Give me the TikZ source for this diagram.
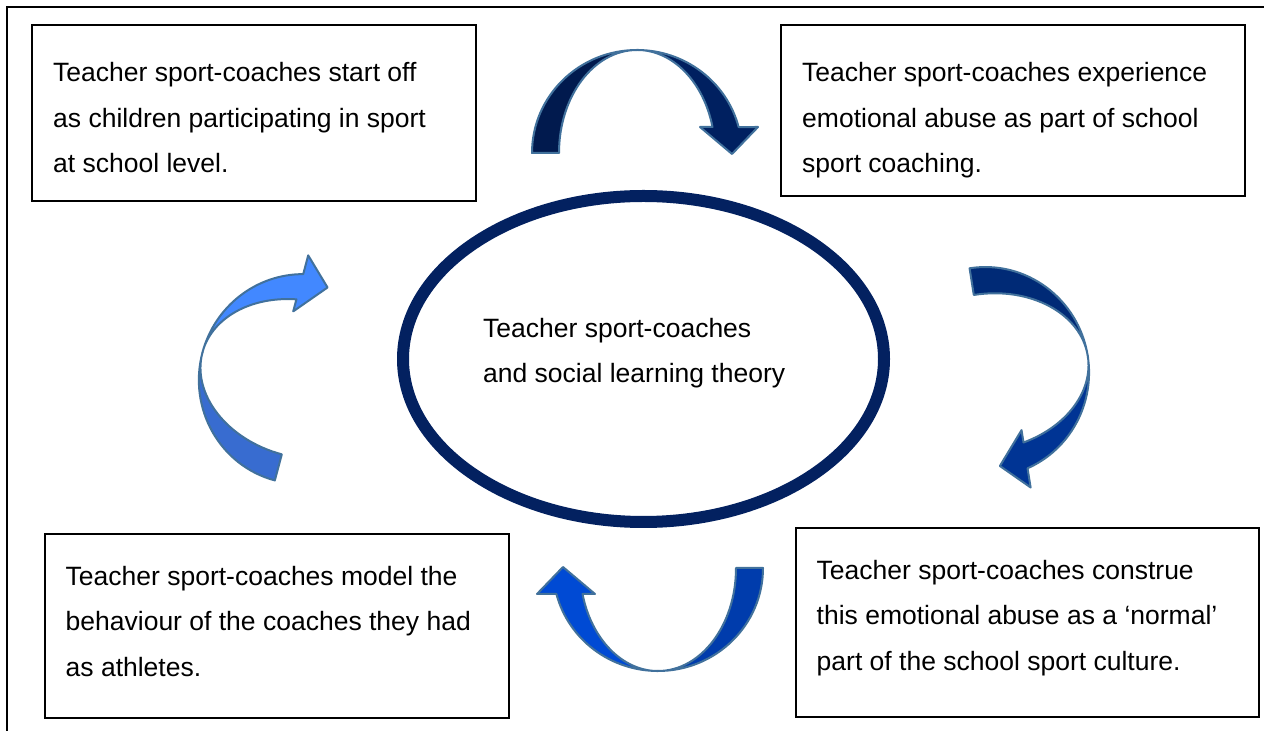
\documentclass[tikz,border=0pt]{standalone}
\usepackage{fontspec}
\setmainfont{Liberation Sans}
\usetikzlibrary{shapes.geometric}
\definecolor{ellcol}{RGB}{3,33,96}
\definecolor{arrowline}{RGB}{65,113,156}
\definecolor{topback}{RGB}{1,26,78}
\definecolor{topfront}{RGB}{0,32,96}
\definecolor{rightback}{RGB}{0,42,118}
\definecolor{rightfront}{RGB}{0,52,148}
\definecolor{botback}{RGB}{0,60,172}
\definecolor{botfront}{RGB}{0,74,212}
\definecolor{leftback}{RGB}{56,108,208}
\definecolor{leftfront}{RGB}{66,136,255}
\tikzset{
  pics/cvarrow/.style 2 args={code={
    \filldraw[arrowedge, fill=#1] (-105,0)
      arc[start angle=180, end angle=90, x radius=105pt, y radius=103pt]
      arc[start angle=90, end angle=180, x radius=78pt, y radius=103pt] -- cycle;
    \filldraw[arrowedge, fill=#2] (0,103)
      arc[start angle=90, end angle=14.6, x radius=105pt, y radius=103pt]
      -- (121,26) -- (95,-1) -- (63,26) -- (75.5,26)
      arc[start angle=14.6, end angle=90, x radius=78pt, y radius=103pt] -- cycle;
  }}
}
\begin{document}
\begin{tikzpicture}[x=1pt,y=1pt,
  frameline/.style={line width=2pt, draw=black},
  box/.style={draw=black, line width=1.5pt, fill=white, inner sep=0pt},
  boxtext/.style={anchor=base west, align=left, inner sep=0pt, font=\fontsize{26.5}{45.5}\selectfont},
  arrowedge/.style={draw=arrowline, line width=2pt, line join=round},
]
\useasboundingbox (0,0) rectangle (1264,731);
\fill[white] (0,0) rectangle (1264,731);
% outer frame
\coordinate (fA) at (7,0);
\coordinate (fB) at (7,724);
\coordinate (fC) at (1264,724);
\draw[frameline] (fA) -- (fB) -- (fC);
% boxes
\node[box, minimum width=444pt, minimum height=176pt] (box1) at (254,618) {};
\node[box, minimum width=464pt, minimum height=171pt] (box2) at (1013,620.5) {};
\node[box, minimum width=464pt, minimum height=184pt] (box3) at (277,105) {};
\node[box, minimum width=463pt, minimum height=189pt] (box4) at (1027.5,108.5) {};
% texts (base anchor = baseline of the last line)
\node[boxtext] (t1) at (53,558.3) {Teacher sport-coaches start off\\as children participating in sport\\at school level.};
\node[boxtext] (t2) at (802,558.3) {Teacher sport-coaches experience\\emotional abuse as part of school\\sport coaching.};
\node[boxtext] (t3) at (65.5,54.7) {Teacher sport-coaches model the\\behaviour of the coaches they had\\as athletes.};
\node[boxtext] (t4) at (816.5,60.7) {Teacher sport-coaches construe\\this emotional abuse as a ‘normal’\\part of the school sport culture.};
% central ellipse
\node[draw=ellcol, line width=12pt, ellipse, minimum width=481pt, minimum height=326pt, inner sep=0pt] (ell) at (643.5,372) {};
\node[boxtext] (t5) at (483,348.2) {Teacher sport-coaches\\and social learning theory};
% curved arrows
\begin{scope}[shift={(637,578)}]
  \pic[transform shape] {cvarrow={topback}{topfront}};
\end{scope}
\begin{scope}[shift={(986,359)}, rotate=-81]
  \pic[transform shape] {cvarrow={rightback}{rightfront}};
\end{scope}
\begin{scope}[shift={(658,163)}, rotate=180]
  \pic[transform shape] {cvarrow={botback}{botfront}};
\end{scope}
\begin{scope}[shift={(302,352)}, rotate=75]
  \pic[transform shape] {cvarrow={leftback}{leftfront}};
\end{scope}
\end{tikzpicture}
\end{document}
